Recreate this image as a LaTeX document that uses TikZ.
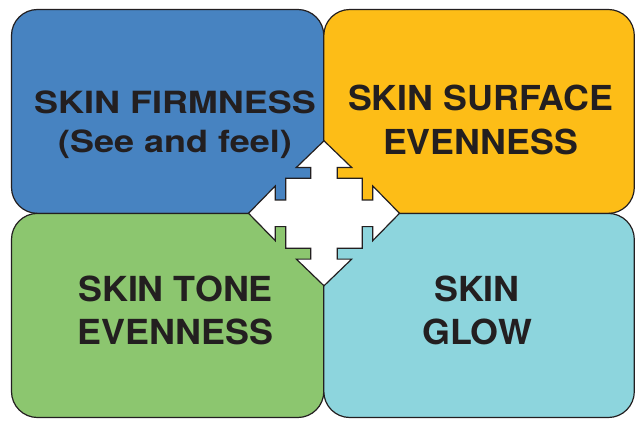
\documentclass[tikz,border=0pt]{standalone}
\usepackage{fontspec}
\newfontfamily\fblue{TeX Gyre Heros}[FakeStretch=1.176]
\newfontfamily\fother{TeX Gyre Heros}[FakeStretch=1.04]
\definecolor{cblue}{HTML}{4783C1}
\definecolor{corange}{HTML}{FDBD17}
\definecolor{cgreen}{HTML}{8CC66F}
\definecolor{ccyan}{HTML}{8DD5DD}
\definecolor{outl}{HTML}{231F20}
\begin{document}
\begin{tikzpicture}[x=1pt,y=-1pt,
  box/.style={draw=outl, line width=1.2pt, rounded corners=26pt},
  lbl/.style={text=outl, inner sep=0pt, align=center, anchor=center},
  crossarrow/.style={draw=outl, fill=white, line width=1.2pt, line join=miter}]
\useasboundingbox (0,0) rectangle (636,420);
\fill[white] (0,0) rectangle (636,420);
% quadrants
\draw[box, fill=cblue]   (11.5,9.5)   rectangle (323.8,213.4);
\draw[box, fill=corange] (323.8,9.5)  rectangle (634.3,213.4);
\draw[box, fill=cgreen]  (11.5,213.4) rectangle (323.8,417.5);
\draw[box, fill=ccyan]   (323.8,213.4) rectangle (634.3,417.5);
% four-way arrow
\draw[crossarrow, shift={(324,213.3)}]
  (0,-72.5) -- (27.7,-45.8) -- (13.3,-45.8) -- (13.3,-35) -- (38.3,-35) -- (38.3,-13.3)
  -- (48.8,-13.3) -- (48.8,-27.3) -- (75.5,0) -- (48.8,27.3) -- (48.8,13.3) -- (38.3,13.3)
  -- (38.3,35) -- (13.3,35) -- (13.3,45.8) -- (27.7,45.8) -- (0,72.5) -- (-27.7,45.8)
  -- (-13.3,45.8) -- (-13.3,35) -- (-38.3,35) -- (-38.3,13.3) -- (-48.8,13.3) -- (-48.8,27.3)
  -- (-75.5,0) -- (-48.8,-27.3) -- (-48.8,-13.3) -- (-38.3,-13.3) -- (-38.3,-35) -- (-13.3,-35)
  -- (-13.3,-45.8) -- (-27.7,-45.8) -- cycle;
% labels
\node[lbl, font=\fblue\bfseries\fontsize{30.6}{39}\selectfont] (firm) at (175,125.2)
  {SKIN FIRMNESS\\(See and feel)};
\node[lbl, font=\fother\bfseries\fontsize{34.4}{43.6}\selectfont] (surf) at (480.5,120.2)
  {SKIN SURFACE\\EVENNESS};
\node[lbl, font=\fother\bfseries\fontsize{34.5}{43}\selectfont] (tone) at (175.5,310)
  {SKIN TONE\\EVENNESS};
\node[lbl, font=\fother\bfseries\fontsize{34.5}{43}\selectfont] (glow) at (477,310)
  {SKIN\\GLOW};
\end{tikzpicture}
\end{document}
